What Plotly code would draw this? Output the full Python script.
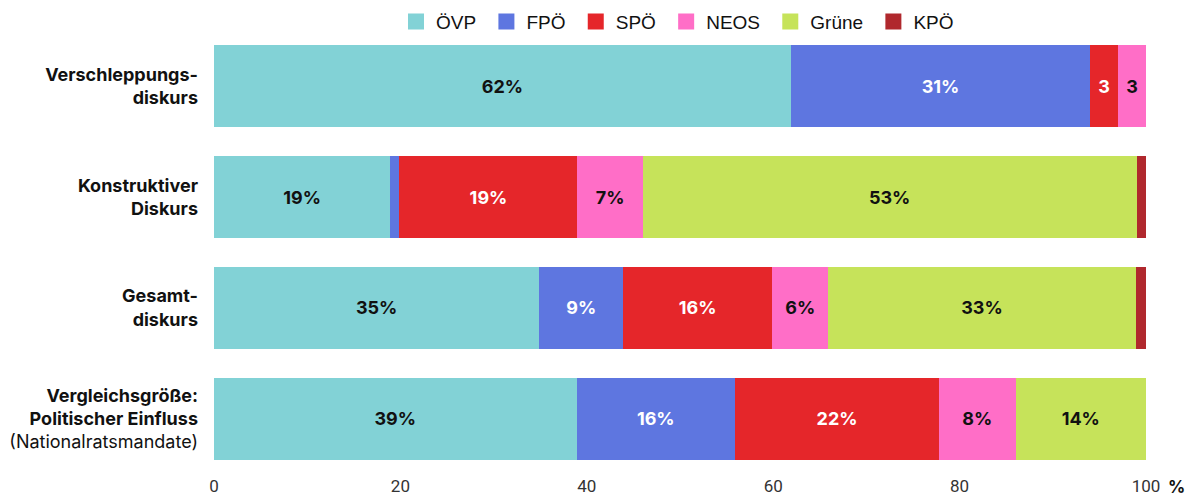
import plotly.graph_objects as go

categories = [
    "<b>Verschleppungs-</b><br><b>diskurs</b>",
    "<b>Konstruktiver</b><br><b>Diskurs</b>",
    "<b>Gesamt-</b><br><b>diskurs</b>",
    "<b>Vergleichsgröße:</b><br><b>Politischer Einfluss</b><br>(Nationalratsmandate)",
]
cat_keys = ["verschleppung", "konstruktiv", "gesamt", "vergleich"]

parties = ["ÖVP", "FPÖ", "SPÖ", "NEOS", "Grüne", "KPÖ"]
colors = ["#82d2d6", "#5e76e0", "#e5262a", "#ff6ec7", "#c6e35a", "#b0282d"]
text_colors = ["#111111", "#ffffff", "#ffffff", "#111111", "#111111", "#ffffff"]

oevp = [61.9, 18.9, 34.9, 38.9]
fpoe = [32.1, 1.0, 9.0, 17.0]
spoe = [3.0, 19.1, 16.0, 21.9]
neos = [3.0, 7.0, 6.0, 8.2]
gruene = [0.0, 53.0, 33.0, 14.0]
kpoe = [0.0, 1.0, 1.1, 0.0]

oevp_lbl = ["62%", "19%", "35%", "39%"]
fpoe_lbl = ["31%", "", "9%", "16%"]
spoe_lbl = ["3", "19%", "16%", "22%"]
neos_lbl = ["3", "7%", "6%", "8%"]
gruene_lbl = ["", "53%", "33%", "14%"]
kpoe_lbl = ["", "", "", ""]

values = [oevp, fpoe, spoe, neos, gruene, kpoe]
labels = [oevp_lbl, fpoe_lbl, spoe_lbl, neos_lbl, gruene_lbl, kpoe_lbl]

x_ticks = [0, 20, 40, 60, 80, 100]
x_ticktext = ["0", "20", "40", "60", "80", "100"]

fig = go.Figure()
for name, col, tcol, vals, lbl in zip(parties, colors, text_colors, values, labels):
    fig.add_trace(go.Bar(
        y=cat_keys, x=vals, orientation="h", name=name,
        marker=dict(color=col, line=dict(width=0)),
        text=lbl, textposition="inside", insidetextanchor="middle", textangle=0,
        textfont=dict(family="Inter, Roboto, sans-serif", size=18, weight="bold", color=tcol),
        showlegend=False, hoverinfo="skip",
    ))
    fig.add_trace(go.Scatter(
        x=[None], y=[None], mode="markers", name=name + "\u00a0",
        marker=dict(symbol="square", size=22, color=col),
        showlegend=True,
    ))

fig.update_layout(
    barmode="stack",
    bargap=0.26,
    width=1186, height=491,
    margin=dict(l=205.5, r=48.3, t=22.5, b=24.5, autoexpand=False),
    plot_bgcolor="white", paper_bgcolor="white",
    legend=dict(
        orientation="h", x=0.5, xanchor="center", y=1.021, yanchor="middle",
        font=dict(family="Liberation Sans, Arial, sans-serif", size=19, color="#111111"),
        itemwidth=30, traceorder="normal",
    ),
    xaxis=dict(
        range=[0, 100], tickvals=x_ticks, ticktext=x_ticktext,
        showgrid=False, zeroline=False, showline=False, ticks="",
        tickfont=dict(family="Liberation Sans Narrow, Roboto, sans-serif", size=17, color="#333333"),
        fixedrange=True,
    ),
    yaxis=dict(
        categoryorder="array", categoryarray=cat_keys,
        tickvals=cat_keys, ticktext=categories,
        autorange="reversed",
        showgrid=False, zeroline=False, showline=False, ticks="",
        ticklabelstandoff=15,
        tickfont=dict(family="Inter, Roboto, sans-serif", size=18, color="#111111"),
        fixedrange=True,
    ),
    annotations=[dict(
        x=100, xref="x", y=0, yref="paper", yanchor="top", xanchor="left",
        xshift=20, yshift=-1, text="<b>%</b>", showarrow=False,
        font=dict(family="Inter, Roboto, sans-serif", size=17, color="#111111"),
    )],
)

fig.write_html("out.html")
